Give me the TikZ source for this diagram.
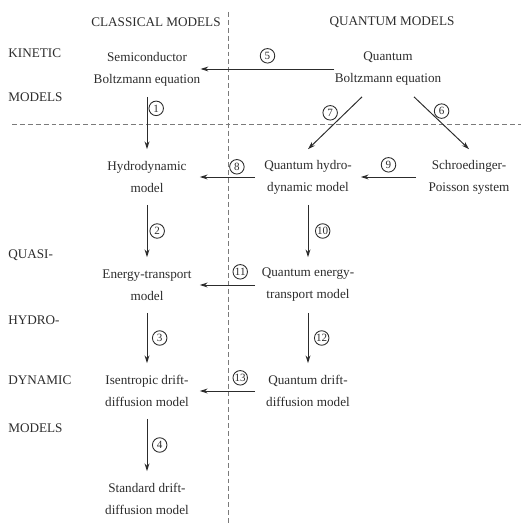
\documentclass[tikz,border=0pt]{standalone}
\usepackage{fontspec}
\setmainfont{Liberation Serif}
\usepackage{tikz}
\usetikzlibrary{positioning, arrows.meta}
\definecolor{InkGray}{HTML}{2C2C2C}
\definecolor{DashGray}{HTML}{7A7A7A}

\tikzset{
  model/.style={align=center, inner sep=0pt, minimum width=2.1cm, minimum height=1.1cm,
    text=InkGray, font=\fontsize{7.5}{12.5}\selectfont},
  tag/.style={anchor=west, inner sep=0pt, text=InkGray, font=\fontsize{7.5}{12.5}\selectfont},
  num/.style={circle, draw=InkGray, line width=0.5pt, inner sep=0pt, minimum size=0.29cm,
    text=InkGray, font=\fontsize{6.3}{6.5}\selectfont},
  reduce/.style={draw=InkGray, line width=0.55pt, -{Stealth[length=4.4pt, width=2.8pt]}},
  divider/.style={DashGray, line width=0.5pt, dash pattern=on 2.8pt off 1.7pt}
}

\begin{document}
\begin{tikzpicture}
    \useasboundingbox (0,0) rectangle (10.42,-10.52);
    % dashed dividers
    \draw[divider] (4.56,-0.24) -- (4.56,-10.52);
    \draw[divider] (0.24,-2.48) -- (10.42,-2.48);
    % headings
    \node[tag, anchor=center] (clshead) at (3.12,-0.44) {CLASSICAL MODELS};
    \node[tag, anchor=center] (qnthead) at (7.84,-0.44) {QUANTUM MODELS};
    \node[tag] (kintag) at (0.16,-1.06) {KINETIC};
    \node[tag] (kinmod) at (0.16,-1.94) {MODELS};
    \node[tag] (quasitag) at (0.16,-5.10) {QUASI-};
    \node[tag] (hydrotag) at (0.16,-6.40) {HYDRO-};
    \node[tag] (dyntag) at (0.16,-7.60) {DYNAMIC};
    \node[tag] (qhmod) at (0.16,-8.56) {MODELS};
    % models
    \node[model] (sbe) at (2.94,-1.38) {Semiconductor\\Boltzmann equation};
    \node[model] (qbe) at (7.76,-1.38) {Quantum\\Boltzmann equation};
    \node[model] (hd) at (2.94,-3.54) {Hydrodynamic\\model};
    \node[model] (qhd) at (6.16,-3.54) {Quantum hydro-\\dynamic model};
    \node[model] (sp) at (9.38,-3.54) {Schroedinger-\\Poisson system};
    \node[model] (et) at (2.94,-5.70) {Energy-transport\\model};
    \node[model] (qet) at (6.16,-5.70) {Quantum energy-\\transport model};
    \node[model] (idd) at (2.94,-7.82) {Isentropic drift-\\diffusion model};
    \node[model] (qdd) at (6.16,-7.82) {Quantum drift-\\diffusion model};
    \node[model] (sdd) at (2.94,-9.98) {Standard drift-\\diffusion model};
    % limits between the models
    \draw[reduce] (sbe) -- node[num, pos=0.22, right=0.03cm] {1} (hd);
    \draw[reduce] (hd) -- node[num, right=0.05cm] {2} (et);
    \draw[reduce] (et) -- node[num, right=0.1cm] {3} (idd);
    \draw[reduce] (idd) -- node[num, right=0.1cm] {4} (sdd);
    \draw[reduce] (qbe) -- node[num, above=0.11cm] {5} (sbe);
    \draw[reduce] (qbe.313) -- node[num, pos=0.39, above right=0.02cm] {6} (sp.north);
    \draw[reduce] (qbe.227) -- node[num, pos=0.45, above left=0.06cm] {7} (qhd.north);
    \draw[reduce] (qhd) -- node[num, pos=0.33, above=0.05cm] {8} (hd);
    \draw[reduce] (sp) -- node[num, above=0.09cm] {9} (qhd);
    \draw[reduce] (qhd) -- node[num, right=0.14cm] {10} (qet);
    \draw[reduce] (qet) -- node[num, pos=0.27, above=0.11cm] {11} (et);
    \draw[reduce] (qet) -- node[num, right=0.12cm] {12} (qdd);
    \draw[reduce] (qdd) -- node[num, pos=0.27, above=0.11cm] {13} (idd);
\end{tikzpicture}
\end{document}
